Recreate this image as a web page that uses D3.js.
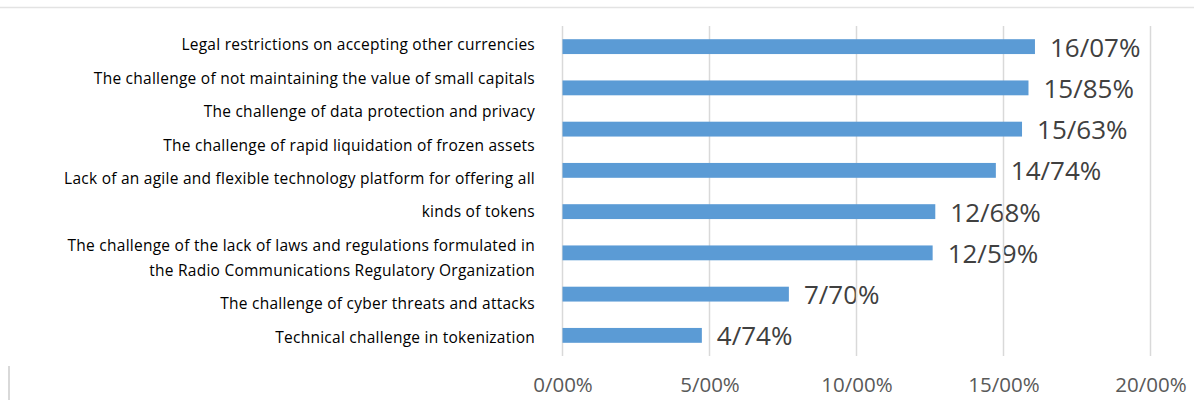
<!DOCTYPE html>
<html>
<head>
<meta charset="utf-8">
<script src="https://cdn.jsdelivr.net/npm/d3@7"></script>
<style>
    body { margin: 0; background: #fff; }
    svg { display: block; }
</style>
</head>
<body>
<div id="chart"></div>
<script>
// data
const categories = [
    "Legal restrictions",
    "Small capitals value",
    "Data protection",
    "Frozen assets",
    "Technology platform",
    "Laws and regulations",
    "Cyber threats",
    "Tokenization"
];
const values = [16.07, 15.85, 15.63, 14.74, 12.68, 12.59, 7.70, 4.74];
const valueLabels = ["16/07%", "15/85%", "15/63%", "14/74%", "12/68%", "12/59%", "7/70%", "4/74%"];

// the y-axis text as it sits in the picture (wrapped lines; cont = continuation of previous line)
const labelLines = [
    { text: "Legal restrictions on accepting other currencies", cont: false },
    { text: "The challenge of not maintaining the value of small capitals", cont: false },
    { text: "The challenge of data protection and privacy", cont: false },
    { text: "The challenge of rapid liquidation of frozen assets", cont: false },
    { text: "Lack of an agile and flexible technology platform for offering all", cont: false },
    { text: "kinds of tokens", cont: false },
    { text: "The challenge of the lack of laws and regulations formulated in", cont: false },
    { text: "the Radio Communications Regulatory Organization", cont: true },
    { text: "The challenge of cyber threats and attacks", cont: false },
    { text: "Technical challenge in tokenization", cont: false }
];

const tickValues = [0, 5, 10, 15, 20];
const tickLabels = ["0/00%", "5/00%", "10/00%", "15/00%", "20/00%"];

const width = 1194, height = 400;
const font = "'Open Sans', sans-serif";

const svg = d3.select("#chart").append("svg")
    .attr("width", width)
    .attr("height", height);

// scales
const x = d3.scaleLinear().domain([0, 20]).range([562.5, 1150.5]);
const y = d3.scaleBand().domain(categories).range([26, 356]).paddingInner(0.64).paddingOuter(0.32);

// frame bits
svg.append("line")
    .attr("x1", 0).attr("x2", width)
    .attr("y1", 7.5).attr("y2", 7.5)
    .attr("stroke", "#e3e3e3").attr("stroke-width", 1.5);

svg.append("line")
    .attr("x1", 9).attr("x2", 9)
    .attr("y1", 366).attr("y2", height)
    .attr("stroke", "#d9d9d9").attr("stroke-width", 2);

// value labels (drawn under the gridlines, as in the picture)
svg.append("g")
    .selectAll("text")
    .data(values)
    .join("text")
    .attr("x", d => x(d) + 15)
    .attr("y", (d, i) => y(categories[i]) + y.bandwidth() / 2)
    .attr("dy", "0.38em")
    .attr("font-family", font)
    .attr("font-size", 26)
    .attr("fill", "#404040")
    .text((d, i) => valueLabels[i]);

// gridlines
svg.append("g")
    .selectAll("line")
    .data(tickValues)
    .join("line")
    .attr("x1", d => x(d)).attr("x2", d => x(d))
    .attr("y1", 26).attr("y2", 356)
    .attr("stroke", "#d9d9d9")
    .attr("stroke-width", 1.5);

// bars
svg.append("g")
    .selectAll("rect")
    .data(values)
    .join("rect")
    .attr("x", x(0))
    .attr("y", (d, i) => y(categories[i]))
    .attr("width", d => x(d) - x(0))
    .attr("height", y.bandwidth())
    .attr("fill", "#5b9bd5");

// x axis tick labels
const xAxis = d3.axisBottom(x)
    .tickValues(tickValues)
    .tickFormat((d, i) => tickLabels[i])
    .tickSize(0)
    .tickPadding(0);

svg.append("g")
    .attr("transform", "translate(0, 377)")
    .call(xAxis)
    .call(g => g.select(".domain").remove())
    .selectAll("text")
    .attr("font-family", font)
    .attr("font-size", 20.5)
    .attr("fill", "#595959");

// category label lines, stacked from the top; wrapped lines sit closer together
const lineGap = 33.4, contGap = 25;
let ly = 45;
const lineY = labelLines.map((d, i) => {
    if (i > 0) ly += d.cont ? contGap : lineGap;
    return ly;
});

svg.append("g")
    .selectAll("text")
    .data(labelLines)
    .join("text")
    .attr("x", 535)
    .attr("y", (d, i) => lineY[i])
    .attr("dy", "0.35em")
    .attr("text-anchor", "end")
    .attr("font-family", font)
    .attr("font-size", 15.5)
    .attr("letter-spacing", 0.25)
    .attr("fill", "#000")
    .text(d => d.text);
</script>
</body>
</html>
